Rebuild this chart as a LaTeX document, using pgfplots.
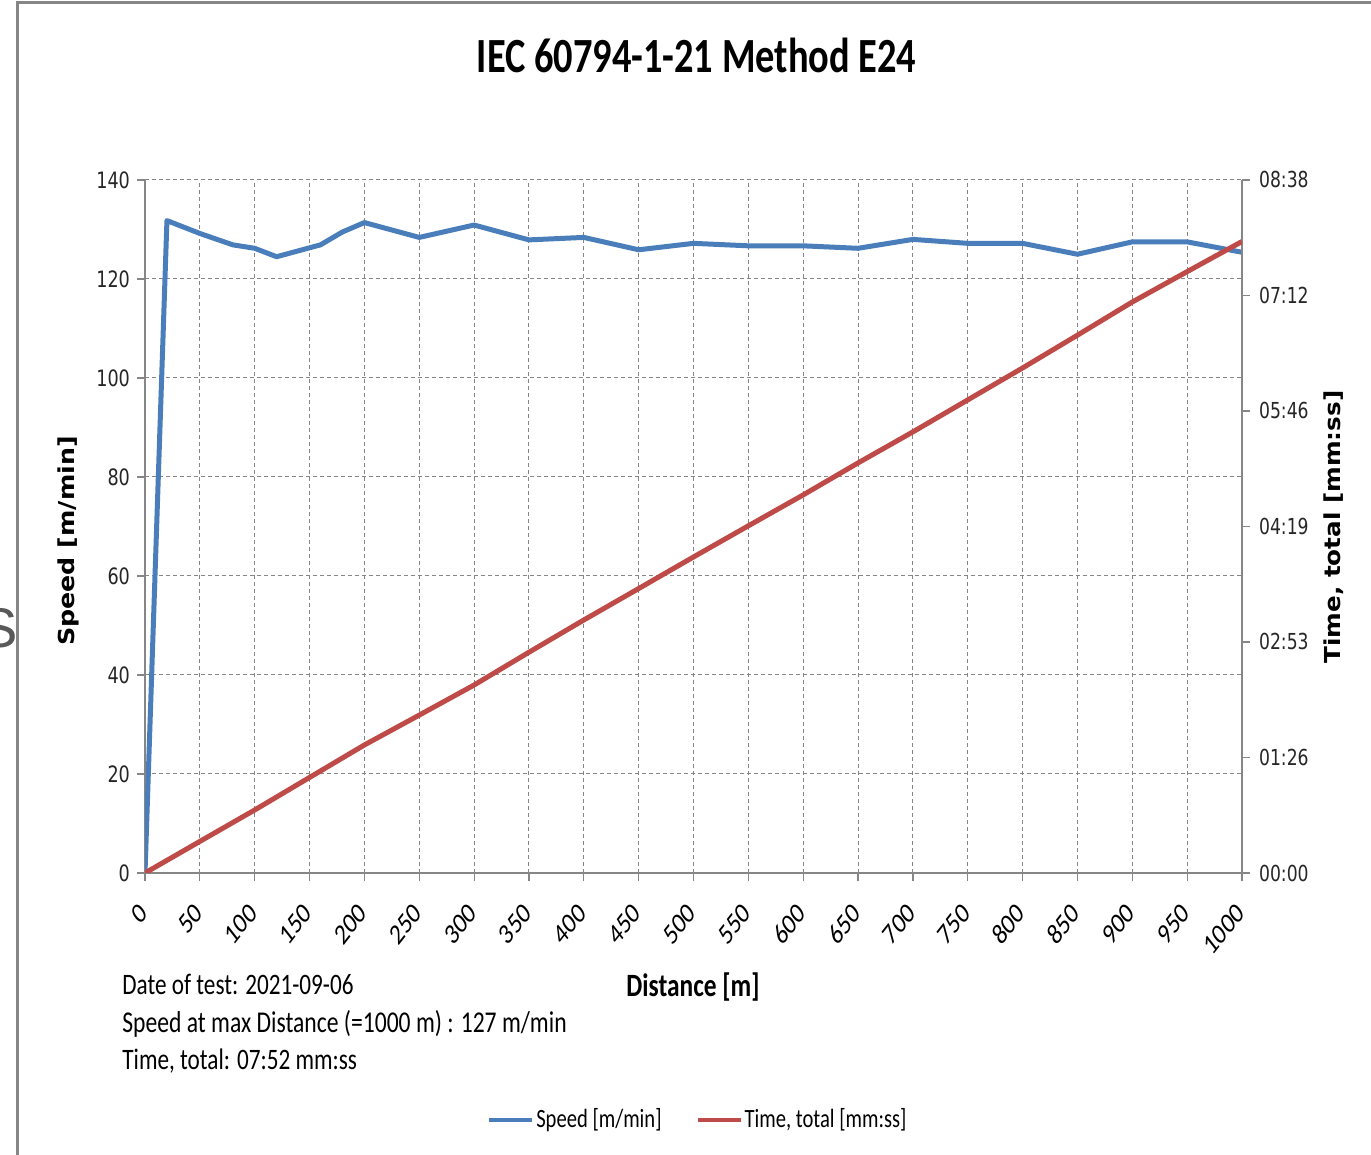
\documentclass[border=0pt]{standalone}
\usepackage{fontspec}
\setmainfont{Carlito}
\newfontfamily\dejavu{DejaVu Sans}
\newfontfamily\libsans{Liberation Sans}
\usepackage{graphicx}
\usepackage{pgfplots}
\pgfplotsset{compat=1.18}
\definecolor{sblue}{RGB}{74,126,187}
\definecolor{tred}{RGB}{190,75,72}
\definecolor{axgray}{RGB}{134,134,134}
\newcommand{\vs}[1]{\scalebox{1}[1.28]{#1}}
\newcommand{\xl}[1]{\scalebox{1}[1.28]{\rotatebox{45}{#1}}}

\begin{document}
\begin{tikzpicture}
\useasboundingbox (0,0) rectangle (685.5pt,577.5pt);
\fill[white] (0,0) rectangle (685.5pt,577.5pt);
% cut-off glyph at the left edge
\begin{scope}
\clip (0,0) rectangle (8pt,577.5pt);
\node[text=black!65, font=\libsans\fontsize{28}{30}\selectfont] at (-0.5pt,263.5pt) {S};
\end{scope}
% chart frame
\draw[axgray, line width=1.5pt] (8.5pt,-1pt) -- (8.5pt,576pt) -- (686pt,576pt);

\begin{axis}[
  at={(72.5pt,141pt)}, anchor=south west,
  scale only axis, width=548.5pt, height=346.5pt,
  xmin=0, xmax=1000, ymin=0, ymax=140,
  axis x line*=bottom, axis y line*=left,
  axis line style={-, axgray, line width=0.8pt},
  xtick={0,50,...,1000},
  xticklabels={\xl{0},\xl{50},\xl{100},\xl{150},\xl{200},\xl{250},\xl{300},\xl{350},\xl{400},\xl{450},\xl{500},\xl{550},\xl{600},\xl{650},\xl{700},\xl{750},\xl{800},\xl{850},\xl{900},\xl{950},\xl{1000}},
  ytick={0,20,...,140},
  yticklabels={\vs{0},\vs{20},\vs{40},\vs{60},\vs{80},\vs{100},\vs{120},\vs{140}},
  tick align=outside, major tick length=4pt,
  tick style={axgray, line width=0.6pt},
  xmajorgrids, ymajorgrids,
  grid style={axgray, line width=0.5pt, dash pattern=on 2pt off 1.5pt},
  xticklabel style={font=\fontsize{11.4}{13}\selectfont, anchor=north east, inner sep=0pt, xshift=2pt, yshift=-10pt},
  yticklabel style={font=\dejavu\fontsize{8.8}{10}\selectfont, text=black!85},
  legend style={at={(0.504,-0.356)}, anchor=center, draw=none, fill=none,
    legend columns=2, font=\fontsize{10.3}{12}\selectfont,
    /tikz/every even column/.append style={column sep=16pt},
    nodes={inner xsep=1pt}},
  legend image code/.code={\draw[#1, line width=2pt] (0pt,0pt) -- (21.5pt,0pt);},
]
\addplot[sblue, line width=2.5pt, line join=round] table {
x y
0 0
20 131.8
50 129.2
80 126.9
100 126.2
120 124.5
160 126.9
180 129.5
200 131.4
250 128.4
300 130.9
350 127.9
400 128.4
450 125.9
500 127.2
550 126.7
600 126.7
650 126.2
700 128.0
750 127.2
800 127.2
850 125.0
900 127.5
950 127.5
1000 125.4
};
\addlegendentry{\vs{Speed [m/min]}}
\addlegendimage{tred, line width=2.5pt}
\addlegendentry{\vs{Time, total [mm:ss]}}
\end{axis}

\begin{axis}[
  at={(72.5pt,141pt)}, anchor=south west,
  scale only axis, width=548.5pt, height=346.5pt,
  xmin=0, xmax=1000, ymin=0, ymax=518,
  axis x line=none, axis y line*=right,
  axis line style={-, axgray, line width=0.8pt},
  ytick={0,86.333,172.667,259,345.333,431.667,518},
  yticklabels={\vs{00:00},\vs{01:26},\vs{02:53},\vs{04:19},\vs{05:46},\vs{07:12},\vs{08:38}},
  tick align=outside, major tick length=4pt,
  tick style={axgray, line width=0.6pt},
  yticklabel style={font=\dejavu\fontsize{8.6}{10}\selectfont, text=black!85, xshift=1pt},
]
\addplot[tred, line width=2.5pt, line join=round] table {
x y
0 0
50 23.6
100 47.1
150 71.4
200 95.7
250 118.0
300 140.5
350 165.0
400 189.1
450 212.6
500 236.2
550 259.5
600 282.6
650 306.5
700 329.7
750 353.6
800 377.5
850 402.0
900 426.8
950 449.5
1000 472.0
};
\end{axis}

% titles and notes
\node[anchor=base, font=\bfseries\fontsize{19.2}{22}\selectfont] at (348.25pt,541.2pt) {\vs{IEC 60794-1-21 Method E24}};
\node[rotate=90, font=\dejavu\bfseries\fontsize{11}{13}\selectfont] at (34pt,307pt) {\scalebox{1.15}[1]{Speed [m/min]}};
\node[rotate=90, font=\dejavu\bfseries\fontsize{11}{13}\selectfont] at (667pt,314pt) {\scalebox{1.12}[1]{Time, total [mm:ss]}};
\node[anchor=base, font=\bfseries\fontsize{12.7}{15}\selectfont] at (346.5pt,79pt) {\vs{Distance [m]}};
\node[anchor=base west, inner sep=0pt, font=\fontsize{11.6}{14}\selectfont] at (61pt,80pt) {\vs{Date of test: 2021-09-06}};
\node[anchor=base west, inner sep=0pt, font=\fontsize{11.8}{14}\selectfont] at (61pt,61.25pt) {\vs{Speed at max Distance (=1000 m) : 127 m/min}};
\node[anchor=base west, inner sep=0pt, font=\fontsize{11.6}{14}\selectfont] at (61pt,42.5pt) {\vs{Time, total: 07:52 mm:ss}};
\end{tikzpicture}
\end{document}
